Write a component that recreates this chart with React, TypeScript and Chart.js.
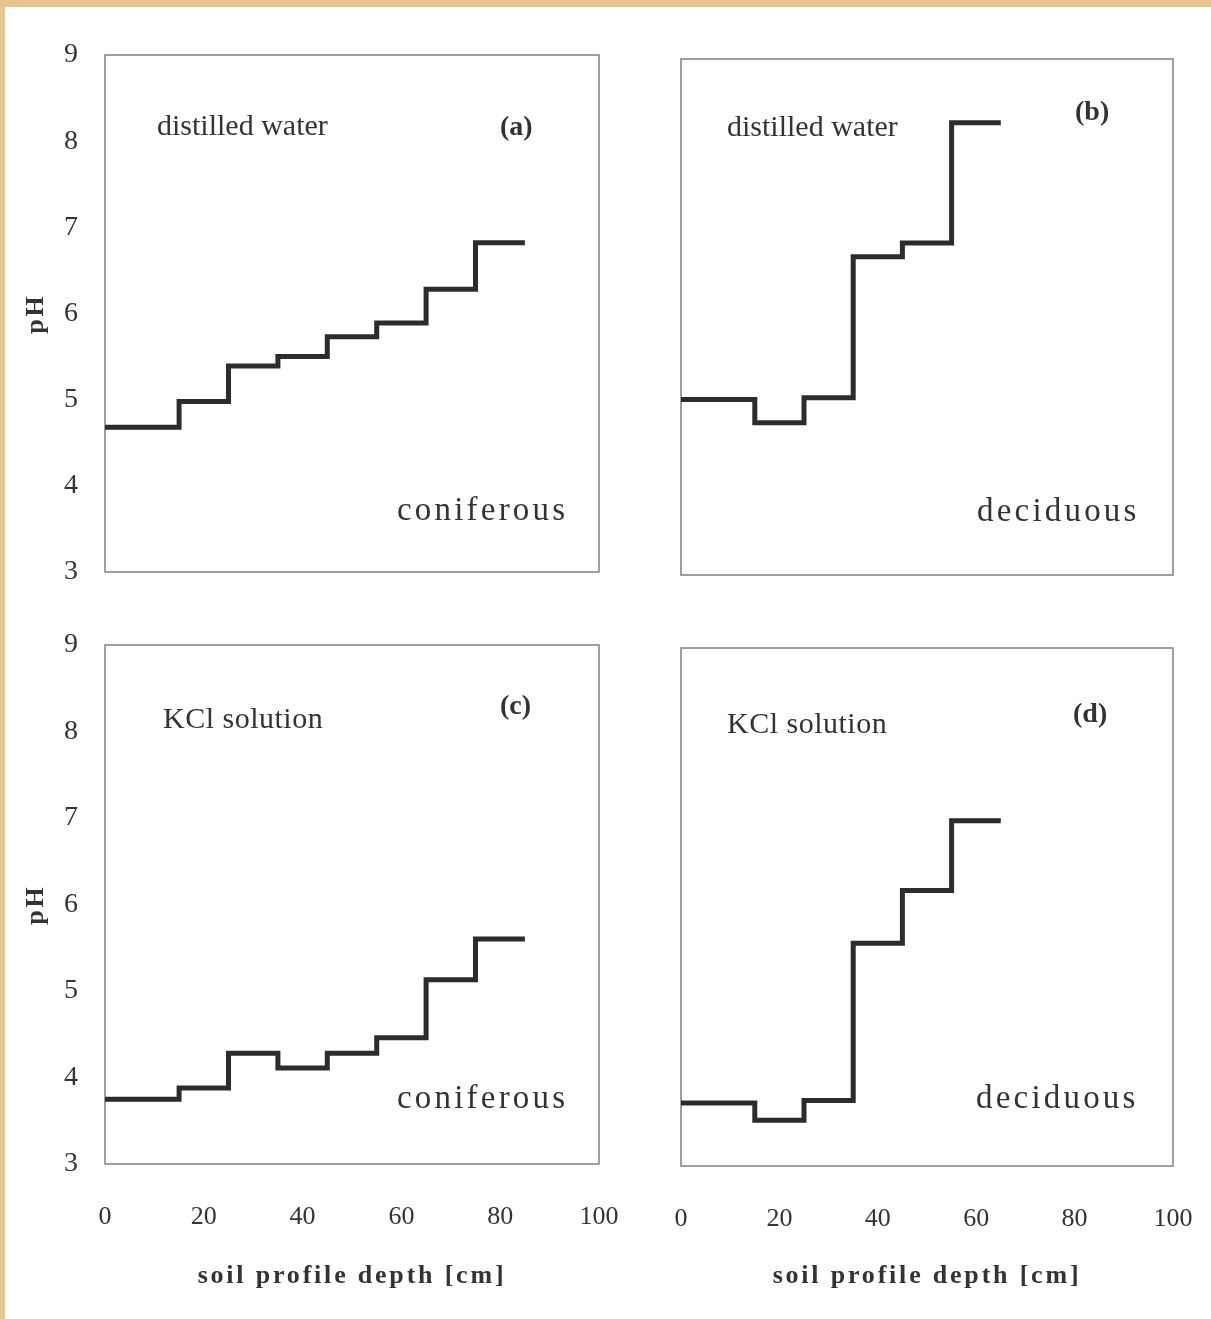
import React, { useEffect, useRef } from 'react';
import { Chart, registerables } from 'chart.js';

Chart.register(...registerables);

// ---- data ----
const depthA = [0, 15, 25, 35, 45, 55, 65, 75, 85];
const phA = [4.68, 4.98, 5.39, 5.5, 5.73, 5.89, 6.28, 6.82, 6.82];

const depthB = [0, 15, 25, 35, 45, 55, 65];
const phB = [5.04, 4.77, 5.06, 6.7, 6.86, 8.26, 8.26];

const depthC = [0, 15, 25, 35, 45, 55, 65, 75, 85];
const phC = [3.75, 3.88, 4.28, 4.11, 4.28, 4.46, 5.13, 5.6, 5.6];

const depthD = [0, 15, 25, 35, 45, 55, 65];
const phD = [3.73, 3.53, 3.76, 5.58, 6.19, 7.0, 7.0];

const depthTicks = [0, 20, 40, 60, 80, 100];
const phTicks = [3, 4, 5, 6, 7, 8, 9];

const solutionLabels = ['distilled water', 'distilled water', 'KCl solution', 'KCl solution'];
const panelLetters = ['(a)', '(b)', '(c)', '(d)'];
const forestTypes = ['coniferous', 'deciduous', 'coniferous', 'deciduous'];
const xTitle = 'soil profile depth [cm]';
const yTitle = 'pH';

const FAMILY = '"Liberation Serif", "DejaVu Serif", "Times New Roman", serif';
const INK = '#333333';

type TextItem = { text: string; dx: number; dy: number; size: number; bold?: boolean; spacing?: number };

const framePlugin = {
  id: 'panelFrame',
  beforeDatasetsDraw(chart: any) {
    const { ctx, chartArea } = chart;
    ctx.save();
    ctx.letterSpacing = '0px';
    ctx.strokeStyle = '#808080';
    ctx.lineWidth = 1.5;
    ctx.strokeRect(chartArea.left, chartArea.top, chartArea.right - chartArea.left, chartArea.bottom - chartArea.top);
    ctx.restore();
  },
};

const spacingPlugin = {
  id: 'titleSpacing',
  beforeDraw(chart: any) {
    chart.ctx.letterSpacing = '2.8px';
  },
  beforeDatasetsDraw(chart: any) {
    chart.ctx.letterSpacing = '0px';
  },
};

const textPlugin = {
  id: 'panelText',
  afterDatasetsDraw(chart: any, _args: any, opts: any) {
    const { ctx, chartArea } = chart;
    const items: TextItem[] = opts.items || [];
    ctx.save();
    ctx.fillStyle = INK;
    ctx.textAlign = 'left';
    ctx.textBaseline = 'alphabetic';
    for (const it of items) {
      ctx.font = `${it.bold ? 'bold ' : ''}${it.size}px ${FAMILY}`;
      ctx.letterSpacing = `${it.spacing || 0}px`;
      ctx.fillText(it.text, chartArea.left + it.dx, chartArea.top + it.dy);
    }
    ctx.restore();
  },
};

type PanelCfg = {
  depth: number[];
  ph: number[];
  left: number;
  top: number;
  w: number;
  h: number;
  pad: { left: number; top: number; right: number; bottom: number };
  showX: boolean;
  showY: boolean;
  xHeight: number;
  texts: TextItem[];
};

const mkTexts = (i: number, sol: [number, number], let_: [number, number], forest: [number, number]): TextItem[] => [
  { text: solutionLabels[i], dx: sol[0], dy: sol[1], size: 30, spacing: i >= 2 ? 0.5 : 0 },
  { text: panelLetters[i], dx: let_[0], dy: let_[1], size: 28, bold: true },
  { text: forestTypes[i], dx: forest[0], dy: forest[1], size: 33, spacing: 3.2 },
];

const panels: PanelCfg[] = [
  {
    depth: depthA, ph: phA, left: 0, top: 0, w: 620, h: 600,
    pad: { left: 0, top: 55, right: 21, bottom: 28 },
    showX: false, showY: true, xHeight: 0,
    texts: mkTexts(0, [52, 80], [395, 80], [292, 465]),
  },
  {
    depth: depthB, ph: phB, left: 620, top: 0, w: 591, h: 600,
    pad: { left: 61, top: 59, right: 38, bottom: 25 },
    showX: false, showY: false, xHeight: 0,
    texts: mkTexts(1, [46, 77], [394, 61], [296, 462]),
  },
  {
    depth: depthC, ph: phC, left: 0, top: 600, w: 620, h: 719,
    pad: { left: 0, top: 45, right: 21, bottom: 0 },
    showX: true, showY: true, xHeight: 155,
    texts: mkTexts(2, [58, 83], [395, 69], [292, 463]),
  },
  {
    depth: depthD, ph: phD, left: 620, top: 600, w: 591, h: 719,
    pad: { left: 61, top: 48, right: 38, bottom: 0 },
    showX: true, showY: false, xHeight: 153,
    texts: mkTexts(3, [46, 85], [392, 74], [295, 460]),
  },
];

function Panel({ cfg }: { cfg: PanelCfg }) {
  const ref = useRef<HTMLCanvasElement | null>(null);
  useEffect(() => {
    if (!ref.current) return;
    const chart = new Chart(ref.current, {
      type: 'line',
      data: {
        datasets: [
          {
            data: cfg.depth.map((d, i) => ({ x: d, y: cfg.ph[i] })),
            stepped: 'before',
            borderColor: '#2c2c2c',
            borderWidth: 5,
            pointRadius: 0,
            fill: false,
            borderJoinStyle: 'miter',
            borderCapStyle: 'butt',
          } as any,
        ],
      },
      options: {
        responsive: false,
        animation: false,
        events: [],
        layout: { padding: cfg.pad },
        plugins: {
          legend: { display: false },
          tooltip: { enabled: false },
          panelText: { items: cfg.texts },
        } as any,
        scales: {
          x: {
            type: 'linear',
            display: cfg.showX,
            min: 0,
            max: 100,
            grid: { display: false, drawTicks: false },
            border: { display: false },
            afterBuildTicks: (s: any) => {
              s.ticks = depthTicks.map((v) => ({ value: v }));
            },
            ticks: {
              padding: 38,
              color: INK,
              font: { family: FAMILY, size: 26 },
              z: 1,
              maxRotation: 0,
              autoSkip: false,
            },
            title: {
              display: true,
              text: xTitle,
              color: INK,
              font: { family: FAMILY, size: 26, weight: 'bold' },
              padding: { top: 0, bottom: 27 },
            },
            afterFit: (s: any) => {
              s.paddingLeft = 0;
              s.paddingRight = 0;
              if (cfg.showX) s.height = cfg.xHeight;
            },
          },
          y: {
            type: 'linear',
            display: cfg.showY,
            min: 3,
            max: 9,
            grid: { display: false, drawTicks: false },
            border: { display: false },
            afterBuildTicks: (s: any) => {
              s.ticks = phTicks.map((v) => ({ value: v }));
            },
            ticks: {
              padding: 27,
              color: INK,
              font: { family: FAMILY, size: 28 },
              z: 1,
              autoSkip: false,
            },
            title: {
              display: true,
              text: yTitle,
              color: INK,
              font: { family: FAMILY, size: 26, weight: 'bold' },
              padding: { top: 21, bottom: 0 },
            },
            afterFit: (s: any) => {
              s.paddingTop = 0;
              s.paddingBottom = 0;
              if (cfg.showY) s.width = 105;
            },
          },
        },
      } as any,
      plugins: [spacingPlugin, framePlugin, textPlugin],
    });
    return () => chart.destroy();
  }, [cfg]);
  return (
    <canvas
      ref={ref}
      width={cfg.w}
      height={cfg.h}
      style={{ position: 'absolute', left: cfg.left, top: cfg.top, width: cfg.w, height: cfg.h }}
    />
  );
}

export default function App() {
  return (
    <div
      style={{
        position: 'absolute',
        left: 0,
        top: 0,
        width: 1211,
        height: 1319,
        background: '#ffffff',
        overflow: 'hidden',
      }}
    >
      <div style={{ position: 'absolute', left: 0, top: 0, width: 1211, height: 7, background: '#E6C68F' }} />
      <div style={{ position: 'absolute', left: 0, top: 0, width: 5, height: 1319, background: '#E6C68F' }} />
      {panels.map((p, i) => (
        <Panel key={i} cfg={p} />
      ))}
    </div>
  );
}
